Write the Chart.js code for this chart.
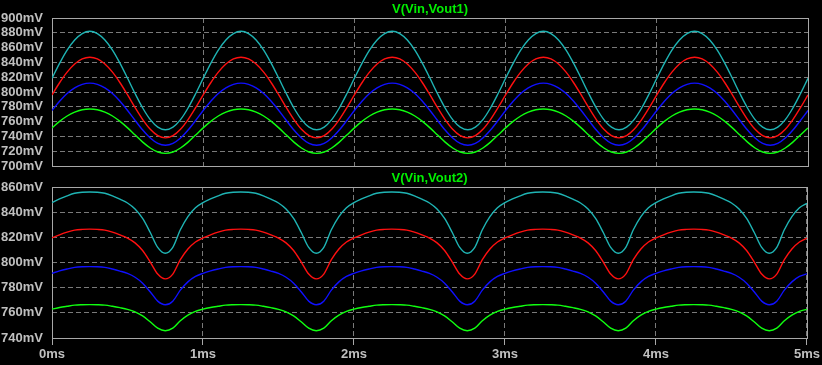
<!DOCTYPE html>
<html>
<head>
<meta charset="utf-8">
<title>V(Vin,Vout1) / V(Vin,Vout2)</title>
<script src="https://cdn.jsdelivr.net/npm/chart.js@4.4.0/dist/chart.umd.min.js"></script>
<style>
  html, body { margin: 0; padding: 0; background: #000; }
  body { width: 822px; height: 365px; position: relative; overflow: hidden; }
  canvas { position: absolute; left: 0; }
  #chart1 { top: 0; }
  #chart2 { top: 170px; }
</style>
</head>
<body>
<canvas id="chart1" width="822" height="183"></canvas>
<canvas id="chart2" width="822" height="195"></canvas>
<script>
// time axis in ms: one sample every 0.05ms over 0..5ms
const timeMs = Array.from({ length: 101 }, (_, i) => +(i * 0.05).toFixed(2));

const xTicks = [0, 1, 2, 3, 4, 5];
const topTicks = [700, 720, 740, 760, 780, 800, 820, 840, 860, 880, 900];
const bottomTicks = [740, 760, 780, 800, 820, 840, 860];

// V(Vin,Vout1), mV (one period per line)
const v1Cyan = [
  818.5, 838.7, 856.6, 870.3, 879.0, 882.0, 879.0, 870.3, 856.6, 838.7, 818.5, 797.7, 778.4, 762.7, 752.6, 749.0, 752.6, 762.7, 778.4, 797.7,
  818.5, 838.7, 856.6, 870.3, 879.0, 882.0, 879.0, 870.3, 856.6, 838.7, 818.5, 797.7, 778.4, 762.7, 752.6, 749.0, 752.6, 762.7, 778.4, 797.7,
  818.5, 838.7, 856.6, 870.3, 879.0, 882.0, 879.0, 870.3, 856.6, 838.7, 818.5, 797.7, 778.4, 762.7, 752.6, 749.0, 752.6, 762.7, 778.4, 797.7,
  818.5, 838.7, 856.6, 870.3, 879.0, 882.0, 879.0, 870.3, 856.6, 838.7, 818.5, 797.7, 778.4, 762.7, 752.6, 749.0, 752.6, 762.7, 778.4, 797.7,
  818.5, 838.7, 856.6, 870.3, 879.0, 882.0, 879.0, 870.3, 856.6, 838.7, 818.5, 797.7, 778.4, 762.7, 752.6, 749.0, 752.6, 762.7, 778.4, 797.7,
  818.5
];
const v1Red = [
  796.0, 812.5, 826.8, 837.8, 844.7, 847.0, 844.7, 837.8, 826.8, 812.5, 796.0, 778.8, 762.7, 749.6, 741.0, 738.0, 741.0, 749.6, 762.7, 778.8,
  796.0, 812.5, 826.8, 837.8, 844.7, 847.0, 844.7, 837.8, 826.8, 812.5, 796.0, 778.8, 762.7, 749.6, 741.0, 738.0, 741.0, 749.6, 762.7, 778.8,
  796.0, 812.5, 826.8, 837.8, 844.7, 847.0, 844.7, 837.8, 826.8, 812.5, 796.0, 778.8, 762.7, 749.6, 741.0, 738.0, 741.0, 749.6, 762.7, 778.8,
  796.0, 812.5, 826.8, 837.8, 844.7, 847.0, 844.7, 837.8, 826.8, 812.5, 796.0, 778.8, 762.7, 749.6, 741.0, 738.0, 741.0, 749.6, 762.7, 778.8,
  796.0, 812.5, 826.8, 837.8, 844.7, 847.0, 844.7, 837.8, 826.8, 812.5, 796.0, 778.8, 762.7, 749.6, 741.0, 738.0, 741.0, 749.6, 762.7, 778.8,
  796.0
];
const v1Blue = [
  775.0, 787.5, 798.0, 805.7, 810.4, 812.0, 810.4, 805.7, 798.0, 787.5, 775.0, 761.5, 748.6, 737.8, 730.5, 728.0, 730.5, 737.8, 748.6, 761.5,
  775.0, 787.5, 798.0, 805.7, 810.4, 812.0, 810.4, 805.7, 798.0, 787.5, 775.0, 761.5, 748.6, 737.8, 730.5, 728.0, 730.5, 737.8, 748.6, 761.5,
  775.0, 787.5, 798.0, 805.7, 810.4, 812.0, 810.4, 805.7, 798.0, 787.5, 775.0, 761.5, 748.6, 737.8, 730.5, 728.0, 730.5, 737.8, 748.6, 761.5,
  775.0, 787.5, 798.0, 805.7, 810.4, 812.0, 810.4, 805.7, 798.0, 787.5, 775.0, 761.5, 748.6, 737.8, 730.5, 728.0, 730.5, 737.8, 748.6, 761.5,
  775.0, 787.5, 798.0, 805.7, 810.4, 812.0, 810.4, 805.7, 798.0, 787.5, 775.0, 761.5, 748.6, 737.8, 730.5, 728.0, 730.5, 737.8, 748.6, 761.5,
  775.0
];
const v1Green = [
  751.5, 760.3, 767.6, 772.8, 776.0, 777.0, 776.0, 772.8, 767.6, 760.3, 751.5, 741.8, 732.3, 724.3, 718.9, 717.0, 718.9, 724.3, 732.3, 741.8,
  751.5, 760.3, 767.6, 772.8, 776.0, 777.0, 776.0, 772.8, 767.6, 760.3, 751.5, 741.8, 732.3, 724.3, 718.9, 717.0, 718.9, 724.3, 732.3, 741.8,
  751.5, 760.3, 767.6, 772.8, 776.0, 777.0, 776.0, 772.8, 767.6, 760.3, 751.5, 741.8, 732.3, 724.3, 718.9, 717.0, 718.9, 724.3, 732.3, 741.8,
  751.5, 760.3, 767.6, 772.8, 776.0, 777.0, 776.0, 772.8, 767.6, 760.3, 751.5, 741.8, 732.3, 724.3, 718.9, 717.0, 718.9, 724.3, 732.3, 741.8,
  751.5, 760.3, 767.6, 772.8, 776.0, 777.0, 776.0, 772.8, 767.6, 760.3, 751.5, 741.8, 732.3, 724.3, 718.9, 717.0, 718.9, 724.3, 732.3, 741.8,
  751.5
];

// V(Vin,Vout2), mV
const v2Cyan = [
  847.5, 850.5, 853.0, 855.0, 855.8, 856.0, 855.8, 855.0, 853.0, 850.3, 847.3, 842.5, 835.0, 824.0, 812.0, 807.3, 812.0, 826.0, 836.5, 843.5,
  847.5, 850.5, 853.0, 855.0, 855.8, 856.0, 855.8, 855.0, 853.0, 850.3, 847.3, 842.5, 835.0, 824.0, 812.0, 807.3, 812.0, 826.0, 836.5, 843.5,
  847.5, 850.5, 853.0, 855.0, 855.8, 856.0, 855.8, 855.0, 853.0, 850.3, 847.3, 842.5, 835.0, 824.0, 812.0, 807.3, 812.0, 826.0, 836.5, 843.5,
  847.5, 850.5, 853.0, 855.0, 855.8, 856.0, 855.8, 855.0, 853.0, 850.3, 847.3, 842.5, 835.0, 824.0, 812.0, 807.3, 812.0, 826.0, 836.5, 843.5,
  847.5, 850.5, 853.0, 855.0, 855.8, 856.0, 855.8, 855.0, 853.0, 850.3, 847.3, 842.5, 835.0, 824.0, 812.0, 807.3, 812.0, 826.0, 836.5, 843.5,
  847.0
];
const v2Red = [
  819.6, 822.0, 824.1, 825.7, 826.3, 826.5, 826.3, 825.7, 824.1, 821.9, 819.4, 815.6, 809.5, 800.5, 790.8, 787.0, 790.8, 802.2, 810.7, 816.3,
  819.6, 822.0, 824.1, 825.7, 826.3, 826.5, 826.3, 825.7, 824.1, 821.9, 819.4, 815.6, 809.5, 800.5, 790.8, 787.0, 790.8, 802.2, 810.7, 816.3,
  819.6, 822.0, 824.1, 825.7, 826.3, 826.5, 826.3, 825.7, 824.1, 821.9, 819.4, 815.6, 809.5, 800.5, 790.8, 787.0, 790.8, 802.2, 810.7, 816.3,
  819.6, 822.0, 824.1, 825.7, 826.3, 826.5, 826.3, 825.7, 824.1, 821.9, 819.4, 815.6, 809.5, 800.5, 790.8, 787.0, 790.8, 802.2, 810.7, 816.3,
  819.6, 822.0, 824.1, 825.7, 826.3, 826.5, 826.3, 825.7, 824.1, 821.9, 819.4, 815.6, 809.5, 800.5, 790.8, 787.0, 790.8, 802.2, 810.7, 816.3,
  819.4
];
const v2Blue = [
  791.4, 793.3, 794.8, 796.1, 796.6, 796.7, 796.6, 796.1, 794.8, 793.2, 791.3, 788.3, 783.6, 776.8, 769.3, 766.4, 769.3, 778.0, 784.6, 788.9,
  791.4, 793.3, 794.8, 796.1, 796.6, 796.7, 796.6, 796.1, 794.8, 793.2, 791.3, 788.3, 783.6, 776.8, 769.3, 766.4, 769.3, 778.0, 784.6, 788.9,
  791.4, 793.3, 794.8, 796.1, 796.6, 796.7, 796.6, 796.1, 794.8, 793.2, 791.3, 788.3, 783.6, 776.8, 769.3, 766.4, 769.3, 778.0, 784.6, 788.9,
  791.4, 793.3, 794.8, 796.1, 796.6, 796.7, 796.6, 796.1, 794.8, 793.2, 791.3, 788.3, 783.6, 776.8, 769.3, 766.4, 769.3, 778.0, 784.6, 788.9,
  791.4, 793.3, 794.8, 796.1, 796.6, 796.7, 796.6, 796.1, 794.8, 793.2, 791.3, 788.3, 783.6, 776.8, 769.3, 766.4, 769.3, 778.0, 784.6, 788.9,
  791.0
];
const v2Green = [
  762.9, 764.2, 765.2, 766.1, 766.4, 766.5, 766.4, 766.1, 765.2, 764.1, 762.8, 760.8, 757.6, 752.9, 747.8, 745.8, 747.8, 753.7, 758.2, 761.2,
  762.9, 764.2, 765.2, 766.1, 766.4, 766.5, 766.4, 766.1, 765.2, 764.1, 762.8, 760.8, 757.6, 752.9, 747.8, 745.8, 747.8, 753.7, 758.2, 761.2,
  762.9, 764.2, 765.2, 766.1, 766.4, 766.5, 766.4, 766.1, 765.2, 764.1, 762.8, 760.8, 757.6, 752.9, 747.8, 745.8, 747.8, 753.7, 758.2, 761.2,
  762.9, 764.2, 765.2, 766.1, 766.4, 766.5, 766.4, 766.1, 765.2, 764.1, 762.8, 760.8, 757.6, 752.9, 747.8, 745.8, 747.8, 753.7, 758.2, 761.2,
  762.9, 764.2, 765.2, 766.1, 766.4, 766.5, 766.4, 766.1, 765.2, 764.1, 762.8, 760.8, 757.6, 752.9, 747.8, 745.8, 747.8, 753.7, 758.2, 761.2,
  762.8
];

const traceColors = { cyan: "#1fb4b4", red: "#ff1010", blue: "#1010ff", green: "#10ff10" };
const labelFont = { family: "'Liberation Sans', Arial, sans-serif", size: 13, weight: "bold" };
const labelColor = "#c0c0c0";
const frameColor = "#a8a8a8";
const gridColor = "#7a7a7a";

// frame round the plot area + green title above it
const framePlugin = {
  id: "frame",
  beforeDatasetsDraw(chart) {
    const { ctx, chartArea: a } = chart;
    ctx.save();
    ctx.strokeStyle = frameColor;
    ctx.lineWidth = 1;
    ctx.strokeRect(a.left + 0.5, a.top + 0.5, a.right - a.left, a.bottom - a.top);
    ctx.restore();
  },
  afterDraw(chart) {
    const { ctx, chartArea: a } = chart;
    ctx.save();
    ctx.font = "bold 13px 'Liberation Sans', Arial, sans-serif";
    ctx.fillStyle = "#00ee00";
    ctx.textAlign = "center";
    ctx.textBaseline = "middle";
    ctx.fillText(chart.options.plugins.frame.title, (a.left + a.right) / 2, a.top - 9);
    ctx.restore();
  }
};

function makeDataset(values, color) {
  return {
    data: timeMs.map((t, i) => ({ x: t, y: values[i] })),
    borderColor: color,
    borderWidth: 1.4,
    pointRadius: 0,
    cubicInterpolationMode: "monotone",
    fill: false
  };
}

function makeChart(id, title, yTicks, series, showX) {
  const ctx = document.getElementById(id).getContext("2d");
  return new Chart(ctx, {
    type: "line",
    data: {
      datasets: [
        makeDataset(series.green, traceColors.green),
        makeDataset(series.blue, traceColors.blue),
        makeDataset(series.red, traceColors.red),
        makeDataset(series.cyan, traceColors.cyan)
      ]
    },
    options: {
      responsive: false,
      animation: false,
      layout: { padding: { top: showX ? 17 : 18, right: 14, left: 0, bottom: 0 } },
      plugins: {
        legend: { display: false },
        tooltip: { enabled: false },
        frame: { title: title }
      },
      scales: {
        x: {
          type: "linear",
          min: xTicks[0],
          max: xTicks[xTicks.length - 1],
          afterBuildTicks: (scale) => { scale.ticks = xTicks.map((v) => ({ value: v })); },
          // top pane has no x labels; its canvas runs 17px past the frame
          afterFit: (scale) => { scale.height = showX ? 27 : 17; },
          grid: {
            color: gridColor,
            drawTicks: showX,
            tickLength: 7,
            tickColor: frameColor,
            tickBorderDash: []
          },
          border: { display: false, dash: [5, 3] },
          ticks: {
            display: showX,
            font: labelFont,
            color: labelColor,
            padding: 2,
            maxRotation: 0,
            autoSkip: false,
            callback: (v) => v + "ms"
          }
        },
        y: {
          min: yTicks[0],
          max: yTicks[yTicks.length - 1],
          afterBuildTicks: (scale) => { scale.ticks = yTicks.map((v) => ({ value: v })); },
          afterFit: (scale) => { scale.width = 52; },
          grid: { color: gridColor, drawTicks: false },
          border: { display: false, dash: [5, 3] },
          ticks: {
            font: labelFont,
            color: labelColor,
            padding: 9,
            autoSkip: false,
            callback: (v) => v + "mV"
          }
        }
      }
    },
    plugins: [framePlugin]
  });
}

makeChart("chart1", "V(Vin,Vout1)", topTicks,
  { cyan: v1Cyan, red: v1Red, blue: v1Blue, green: v1Green }, false);
makeChart("chart2", "V(Vin,Vout2)", bottomTicks,
  { cyan: v2Cyan, red: v2Red, blue: v2Blue, green: v2Green }, true);
</script>
</body>
</html>
